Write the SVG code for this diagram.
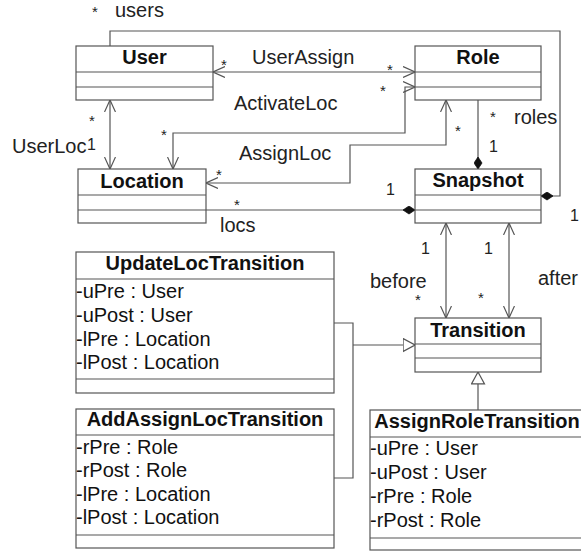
<svg xmlns="http://www.w3.org/2000/svg" width="581" height="552" viewBox="0 0 581 552">
<style>
.box{fill:#fff;stroke:#555;stroke-width:1.2}
.sep{stroke:#555;stroke-width:1.2}
.ln{fill:none;stroke:#555;stroke-width:1.2}
.t{font-family:"Liberation Sans",Arial,sans-serif;font-size:20px;font-weight:bold;fill:#111;text-anchor:middle}
.a{font-family:"Liberation Sans",Arial,sans-serif;font-size:20px;fill:#111}
.l{font-family:"Liberation Sans",Arial,sans-serif;font-size:20px;fill:#222}
.m{font-family:"Liberation Sans",Arial,sans-serif;font-size:15px;fill:#222}
.n{font-family:"Liberation Sans",Arial,sans-serif;font-size:16px;fill:#222}
</style>
<defs>
<marker id="open" viewBox="0 0 12 12" refX="12" refY="6" markerWidth="12" markerHeight="12" markerUnits="userSpaceOnUse" orient="auto-start-reverse"><path d="M0,0.5 L12,6 L0,11.5" fill="none" stroke="#555" stroke-width="1.2"/></marker>
<marker id="dia" viewBox="0 0 13 9" refX="12.5" refY="4.5" markerWidth="13" markerHeight="9" markerUnits="userSpaceOnUse" orient="auto"><path d="M0.5,4.5 L6.5,0.5 L12.5,4.5 L6.5,8.5 z" fill="#111" stroke="#111" stroke-width="0.8"/></marker>
<marker id="tri" viewBox="0 0 13 15" refX="12.5" refY="7.5" markerWidth="13" markerHeight="15" markerUnits="userSpaceOnUse" orient="auto"><path d="M0.6,1 L12.5,7.5 L0.6,14 z" fill="#fff" stroke="#555" stroke-width="1.2"/></marker>
</defs>

<g id="connectors">
<path class="ln" d="M110,46 V31 H560 V196 H541" marker-end="url(#dia)"/>
<path class="ln" d="M213,72 H415" marker-start="url(#open)" marker-end="url(#open)"/>
<path class="ln" d="M415,87 H405 V133 H173 V169" marker-start="url(#open)" marker-end="url(#open)"/>
<path class="ln" d="M446,100 V145 H350 V183 H206" marker-start="url(#open)" marker-end="url(#open)"/>
<path class="ln" d="M110,100 V169" marker-start="url(#open)" marker-end="url(#open)"/>
<path class="ln" d="M206,210 H415" marker-end="url(#dia)"/>
<path class="ln" d="M478,100 V169" marker-end="url(#dia)"/>
<path class="ln" d="M446,223 V318" marker-start="url(#open)" marker-end="url(#open)"/>
<path class="ln" d="M509,223 V318" marker-start="url(#open)" marker-end="url(#open)"/>
<path class="ln" d="M334,323 H353 V478 H334"/>
<path class="ln" d="M353,345 H415" marker-end="url(#tri)"/>
<path class="ln" d="M478,410 V372" marker-end="url(#tri)"/>

<text class="m" x="92" y="17">*</text>
<text class="l" x="115" y="17">users</text>
<text class="n" x="570" y="221">1</text>
<text class="l" x="252" y="64">UserAssign</text>
<text class="m" x="221" y="70">*</text>
<text class="m" x="387" y="75">*</text>
<text class="l" x="234" y="110">ActivateLoc</text>
<text class="m" x="380" y="96">*</text>
<text class="m" x="161" y="140">*</text>
<text class="l" x="239" y="160">AssignLoc</text>
<text class="m" x="455" y="136">*</text>
<text class="m" x="216" y="180">*</text>
<text class="l" x="12" y="153">UserLoc</text>
<text class="n" x="87" y="150">1</text>
<text class="m" x="89" y="126">*</text>
<text class="m" x="234" y="210">*</text>
<text class="l" x="220" y="232">locs</text>
<text class="n" x="386" y="195">1</text>
<text class="m" x="490" y="122">*</text>
<text class="l" x="514" y="124">roles</text>
<text class="n" x="489" y="152">1</text>
<text class="n" x="421" y="254">1</text>
<text class="n" x="484" y="254">1</text>
<text class="l" x="370" y="288">before</text>
<text class="m" x="415" y="305">*</text>
<text class="m" x="478" y="303">*</text>
<text class="l" x="538" y="285">after</text>
</g>

<g id="User">
<rect class="box" x="76" y="46" width="137" height="54"/>
<line class="sep" x1="76" y1="72" x2="213" y2="72"/>
<line class="sep" x1="76" y1="87" x2="213" y2="87"/>
<text class="t" x="144.5" y="64">User</text>
</g>
<g id="Role">
<rect class="box" x="415" y="46" width="126" height="54"/>
<line class="sep" x1="415" y1="72" x2="541" y2="72"/>
<line class="sep" x1="415" y1="87" x2="541" y2="87"/>
<text class="t" x="478" y="64">Role</text>
</g>
<g id="Location">
<rect class="box" x="78" y="169" width="128" height="54"/>
<line class="sep" x1="78" y1="195" x2="206" y2="195"/>
<line class="sep" x1="78" y1="210" x2="206" y2="210"/>
<text class="t" x="142" y="188">Location</text>
</g>
<g id="Snapshot">
<rect class="box" x="415" y="169" width="126" height="54"/>
<line class="sep" x1="415" y1="195" x2="541" y2="195"/>
<line class="sep" x1="415" y1="210" x2="541" y2="210"/>
<text class="t" x="478" y="187">Snapshot</text>
</g>
<g id="Transition">
<rect class="box" x="415" y="318" width="126" height="54"/>
<line class="sep" x1="415" y1="344" x2="541" y2="344"/>
<line class="sep" x1="415" y1="358" x2="541" y2="358"/>
<text class="t" x="478" y="337">Transition</text>
</g>
<g id="UpdateLocTransition">
<rect class="box" x="76" y="252" width="258" height="141"/>
<line class="sep" x1="76" y1="279" x2="334" y2="279"/>
<line class="sep" x1="76" y1="379" x2="334" y2="379"/>
<text class="t" x="205" y="270">UpdateLocTransition</text>
<text class="a" x="76" y="298">-uPre : User</text>
<text class="a" x="76" y="322">-uPost : User</text>
<text class="a" x="76" y="346">-lPre : Location</text>
<text class="a" x="76" y="369">-lPost : Location</text>
</g>
<g id="AddAssignLocTransition">
<rect class="box" x="76" y="409" width="258" height="139"/>
<line class="sep" x1="76" y1="435" x2="334" y2="435"/>
<line class="sep" x1="76" y1="535" x2="334" y2="535"/>
<text class="t" x="205" y="426">AddAssignLocTransition</text>
<text class="a" x="76" y="454">-rPre : Role</text>
<text class="a" x="76" y="477">-rPost : Role</text>
<text class="a" x="76" y="501">-lPre : Location</text>
<text class="a" x="76" y="524">-lPost : Location</text>
</g>
<g id="AssignRoleTransition">
<rect class="box" x="370" y="410" width="215" height="140"/>
<line class="sep" x1="370" y1="437" x2="585" y2="437"/>
<line class="sep" x1="370" y1="538" x2="585" y2="538"/>
<text class="t" x="477" y="428">AssignRoleTransition</text>
<text class="a" x="370" y="455">-uPre : User</text>
<text class="a" x="370" y="479">-uPost : User</text>
<text class="a" x="370" y="503">-rPre : Role</text>
<text class="a" x="370" y="527">-rPost : Role</text>
</g>
</svg>
